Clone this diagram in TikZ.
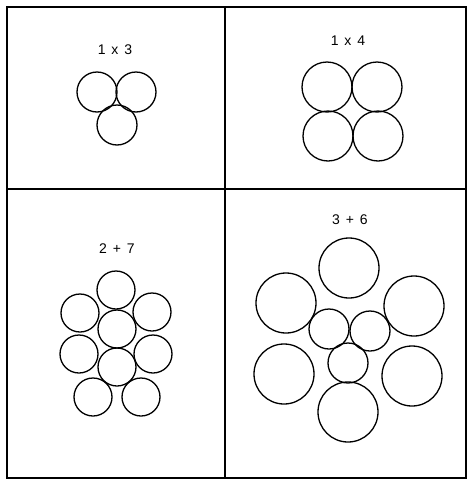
\documentclass[tikz,border=0pt]{standalone}
\usepackage{fontspec}
\setmainfont{Liberation Sans}
\newcommand\capfont{\fontsize{14}{16}\selectfont\spaceskip=0.42em\relax}
\tikzset{
  wire/.style={line width=1.3pt},
  frame/.style={line width=1.3pt},
  caption/.style={font=\capfont, inner sep=0pt}
}
\begin{document}
\begin{tikzpicture}[x=1pt,y=-1pt]
    \useasboundingbox (0,0) rectangle (468,480);
    \coordinate (NW) at (7,7);
    \coordinate (SE) at (466,478);
    \draw[frame] (NW) rectangle (SE);
    \draw[frame] (7,189)--(466,189);
    \draw[frame] (225,7)--(225,478);

    % 1 x 3
    \node[caption] (lab13) at (115,50) {1 x 3};
    \foreach \p in {(97,92),(136,92),(117,125)}
        \draw[wire] \p circle (20pt);

    % 1 x 4
    \node[caption] (lab14) at (348,41) {1 x 4};
    \foreach \p in {(327,87),(377,87),(328,136),(378,136)}
        \draw[wire] \p circle (25pt);

    % 2 + 7
    \node[caption] (lab27) at (117,249) {2 + 7};
    \foreach \p in {(116,290),(117,329),(117,367),(80,313),(152,312),
                    (79,354),(153,354),(93,397),(141,397)}
        \draw[wire] \p circle (19pt);

    % 3 + 6
    \node[caption] (lab36) at (350,220) {3 + 6};
    \foreach \p in {(349,268),(286,303),(414,306),(284,374),(412,376),(348,412)}
        \draw[wire] \p circle (30pt);
    \foreach \p in {(329,329),(370,331),(348,363)}
        \draw[wire] \p circle (20pt);
\end{tikzpicture}
\end{document}
